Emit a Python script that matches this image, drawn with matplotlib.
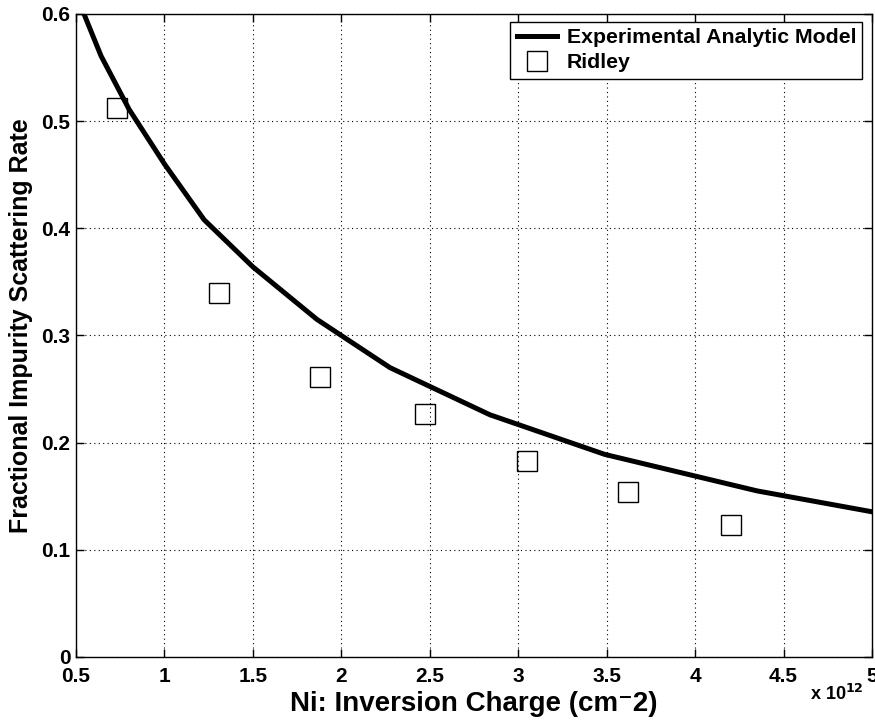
import matplotlib
matplotlib.use("Agg")
import matplotlib.pyplot as plt
from matplotlib.ticker import FuncFormatter

plt.rcParams['font.family'] = ['Liberation Sans', 'DejaVu Sans']
plt.rcParams['font.weight'] = 'bold'

# analytic model curve (Ni in units of 1e12 cm^-2)
model_ni = [0.545, 0.641, 0.80, 1.0, 1.224, 1.50, 1.862, 2.275, 2.84, 3.49, 4.35, 5.0]
model_rate = [0.600, 0.561, 0.511, 0.460, 0.408, 0.364, 0.315, 0.270, 0.226, 0.189, 0.155, 0.1355]

# Ridley points
ridley_ni = [0.73, 1.31, 1.88, 2.47, 3.05, 3.62, 4.20]
ridley_rate = [0.512, 0.340, 0.261, 0.227, 0.183, 0.154, 0.123]

xticks = [0.5, 1, 1.5, 2, 2.5, 3, 3.5, 4, 4.5, 5]
yticks = [0, 0.1, 0.2, 0.3, 0.4, 0.5, 0.6]

fig = plt.figure(figsize=(8.75, 7.25), dpi=100)
ax = fig.add_axes([0.0869, 0.0938, 0.9097, 0.8869])

ax.plot(model_ni, model_rate, color='black', lw=3.6,
        label='Experimental Analytic Model')
ax.plot(ridley_ni, ridley_rate, linestyle='none', marker='s', ms=15,
        mfc='none', mec='black', mew=1.0, label='Ridley')

ax.set_xlim(0.5, 5)
ax.set_ylim(0, 0.6)
ax.set_xticks(xticks)
ax.set_yticks(yticks)
fmt = FuncFormatter(lambda v, p: '%g' % v)
ax.xaxis.set_major_formatter(fmt)
ax.yaxis.set_major_formatter(fmt)
ax.tick_params(direction='in', length=6, width=1, labelsize=15,
               top=True, right=True)
ax.tick_params(axis='x', pad=7)
ax.tick_params(axis='y', pad=4)
for s in ax.spines.values():
    s.set_linewidth(1.0)

ax.grid(True, color='black', linestyle=(0, (1, 3)), linewidth=0.8)

ax.set_xlabel('Ni: Inversion Charge (cm⁻2)', fontsize=20, fontweight='bold',
              labelpad=4)
ax.set_ylabel('Fractional Impurity Scattering Rate', fontsize=18,
              fontweight='bold')
ax.yaxis.set_label_coords(-0.054, 0.515)

ax.text(0.989, -0.058, r'x 10$^{\mathbf{12}}$', transform=ax.transAxes,
        ha='right', va='center', fontsize=13, fontweight='bold')

leg = ax.legend(loc='upper right', bbox_to_anchor=(0.988, 0.988),
                fontsize=15.3, frameon=True, fancybox=False, framealpha=1,
                edgecolor='black', handlelength=1.9, handletextpad=0.45,
                borderpad=0.3, labelspacing=0.3, borderaxespad=0)
leg.get_frame().set_linewidth(1.0)
for t in leg.get_texts():
    t.set_fontweight('bold')

fig.savefig('out.png', dpi=100)
